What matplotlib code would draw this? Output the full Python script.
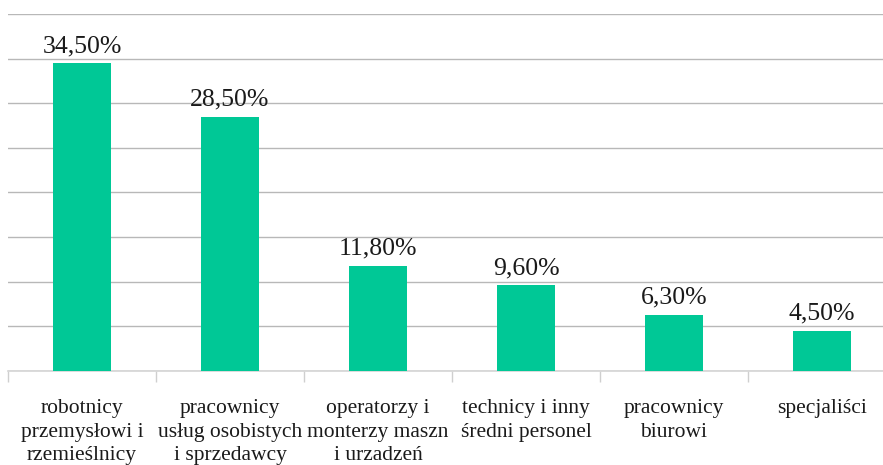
import matplotlib
matplotlib.use("Agg")
import matplotlib.pyplot as plt

categories = [
    "robotnicy\nprzemysłowi i\nrzemieślnicy",
    "pracownicy\nusług osobistych\ni sprzedawcy",
    "operatorzy i\nmonterzy maszn\ni urzadzeń",
    "technicy i inny\nśredni personel",
    "pracownicy\nbiurowi",
    "specjaliści",
]
values = [34.5, 28.5, 11.8, 9.6, 6.3, 4.5]
value_labels = ["34,50%", "28,50%", "11,80%", "9,60%", "6,30%", "4,50%"]

W, H = 883, 465
fig = plt.figure(figsize=(W / 100, H / 100), dpi=100)
ax = fig.add_axes([8 / W, (H - 371) / H, 888 / W, (371 - 14) / H])

x = list(range(len(categories)))
ax.bar(x, values, width=0.39, color="#00C896", zorder=3)

ax.set_xlim(-0.5, len(categories) - 0.5)
ax.set_ylim(0, 40)
ax.set_yticks(range(0, 41, 5))
ax.yaxis.grid(True, color="#b8b8b8", linewidth=1.0, zorder=0)
ax.tick_params(axis="y", length=0, labelleft=False)

ax.set_xticks([i - 0.5 for i in range(len(categories) + 1)])
ax.set_xticklabels([])
ax.tick_params(axis="x", length=8, width=1, color="#cfcfcf", direction="out")

for s in ["top", "right", "left"]:
    ax.spines[s].set_visible(False)
ax.spines["bottom"].set_color("#d4d4d4")
ax.spines["bottom"].set_linewidth(1.2)

serif = "Liberation Serif"
for i, (v, lab) in enumerate(zip(values, value_labels)):
    ax.annotate(lab, xy=(i, v), xytext=(0, 6), textcoords="offset pixels",
                ha="center", va="bottom", fontsize=18.5, family=serif, color="#1a1a1a")

for i, c in enumerate(categories):
    ax.annotate(c, xy=(i, 0), xycoords=("data", "axes fraction"),
                xytext=(0, -28), textcoords="offset pixels",
                ha="center", va="top", fontsize=15.5, family=serif,
                color="#1a1a1a", linespacing=1.33, annotation_clip=False)

fig.savefig("out.png", dpi=100)
